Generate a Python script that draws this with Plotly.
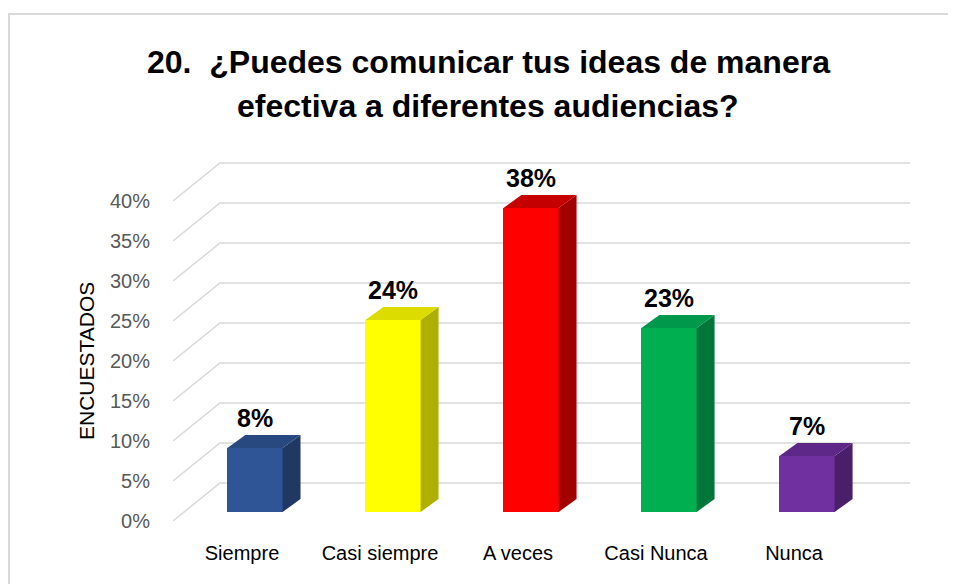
import plotly.graph_objects as go

# datos de la encuesta (pregunta 20)
categorias = ["Siempre", "Casi siempre", "A veces", "Casi Nunca", "Nunca"]
porcentajes = [8, 24, 38, 23, 7]
etiquetas = ["8%", "24%", "38%", "23%", "7%"]
ticks_y = [0, 5, 10, 15, 20, 25, 30, 35, 40]
ticks_y_texto = ["0%", "5%", "10%", "15%", "20%", "25%", "30%", "35%", "40%"]

col_frente = ["#2F5597", "#FFFF00", "#FF0000", "#00B050", "#7030A0"]
col_lado = ["#203864", "#AFAF00", "#A30000", "#00773A", "#4A1F6A"]
col_tapa = ["#27497F", "#DCDC00", "#C40000", "#00984A", "#5D2887"]

# geometria del falso 3D (en unidades de datos)
fondo_dx, fondo_dy = 0.34, 4.75      # desplazamiento de la pared del fondo
barra_dx, barra_base = 0.094, 1.125  # cara frontal de la barra
ancho = 0.4
lado_dx, lado_dy = 0.13, 1.625       # profundidad de la barra

W, H = 956, 584
fuente = "Liberation Sans, Arial"

fig = go.Figure()

# cara frontal
fig.add_trace(go.Bar(
    x=[i + barra_dx for i in range(len(categorias))],
    y=porcentajes,
    base=[barra_base] * len(categorias),
    width=ancho,
    marker=dict(color=col_frente, line=dict(width=0)),
    hoverinfo="skip",
    showlegend=False
))

anotaciones = []
for i, v in enumerate(porcentajes):
    x0 = i + barra_dx - ancho / 2
    x1 = i + barra_dx + ancho / 2
    b = barra_base
    t = barra_base + v
    # cara lateral
    fig.add_trace(go.Scatter(
        x=[x1, x1 + lado_dx, x1 + lado_dx, x1, x1],
        y=[b, b + lado_dy, t + lado_dy, t, b],
        fill="toself", fillcolor=col_lado[i], mode="lines",
        line=dict(width=0, color=col_lado[i]), hoverinfo="skip", showlegend=False
    ))
    # tapa superior
    fig.add_trace(go.Scatter(
        x=[x0, x1, x1 + lado_dx, x0 + lado_dx, x0],
        y=[t, t, t + lado_dy, t + lado_dy, t],
        fill="toself", fillcolor=col_tapa[i], mode="lines",
        line=dict(width=0, color=col_tapa[i]), hoverinfo="skip", showlegend=False
    ))
    anotaciones.append(dict(
        x=i + barra_dx, y=t + lado_dy, xref="x", yref="y",
        text="<b>" + etiquetas[i] + "</b>", showarrow=False,
        yanchor="bottom", yshift=1,
        font=dict(family=fuente, size=25, color="#000000")
    ))

# lineas de la cuadricula en la pared del fondo y el suelo
formas = []
for v in ticks_y:
    formas.append(dict(
        type="path", xref="x", yref="y", layer="below",
        path="M {} {} L {} {} L {} {}".format(
            -0.5, v, -0.5 + fondo_dx, v + fondo_dy, 4.5 + fondo_dx, v + fondo_dy),
        line=dict(color="#D9D9D9", width=1.5)
    ))

# borde del grafico
formas.append(dict(
    type="rect", xref="paper", yref="paper",
    x0=1 / W, x1=1.02, y0=-0.02, y1=(H - 6) / H,
    line=dict(color="#D9D9D9", width=2)
))

# titulo en dos lineas
anotaciones.append(dict(
    x=480 / W, y=(H - 54) / H, xref="paper", yref="paper",
    text="<b>20.  ¿Puedes comunicar tus ideas de manera</b>", showarrow=False,
    xanchor="center", yanchor="middle",
    font=dict(family=fuente, size=32, color="#000000")
))
anotaciones.append(dict(
    x=480 / W, y=(H - 98) / H, xref="paper", yref="paper",
    text="<b>efectiva a diferentes audiencias?</b>", showarrow=False,
    xanchor="center", yanchor="middle",
    font=dict(family=fuente, size=32, color="#000000")
))

# titulo del eje y
anotaciones.append(dict(
    x=79 / W, y=(H - 353) / H, xref="paper", yref="paper",
    text="ENCUESTADOS", textangle=-90, showarrow=False,
    xanchor="center", yanchor="middle",
    font=dict(family=fuente, size=21, color="#000000")
))

fig.update_layout(
    width=W, height=H,
    margin=dict(l=0, r=0, t=0, b=0),
    paper_bgcolor="white", plot_bgcolor="white",
    shapes=formas, annotations=anotaciones,
    bargap=0,
    xaxis=dict(
        range=[-0.5, 4.5 + fondo_dx], domain=[165 / W, 902 / W],
        tickvals=list(range(len(categorias))), ticktext=categorias,
        showgrid=False, zeroline=False, showline=False, ticks="",
        ticklabelstandoff=2, automargin=False,
        tickfont=dict(family=fuente, size=20, color="#000000")
    ),
    yaxis=dict(
        range=[-2, 46], domain=[(H - 529) / H, (H - 145) / H],
        tickvals=ticks_y, ticktext=ticks_y_texto,
        showgrid=False, zeroline=False, showline=False, ticks="",
        ticklabelstandoff=22, automargin=False,
        tickfont=dict(family=fuente, size=20, color="#595959")
    )
)

fig.write_html("out.html")
